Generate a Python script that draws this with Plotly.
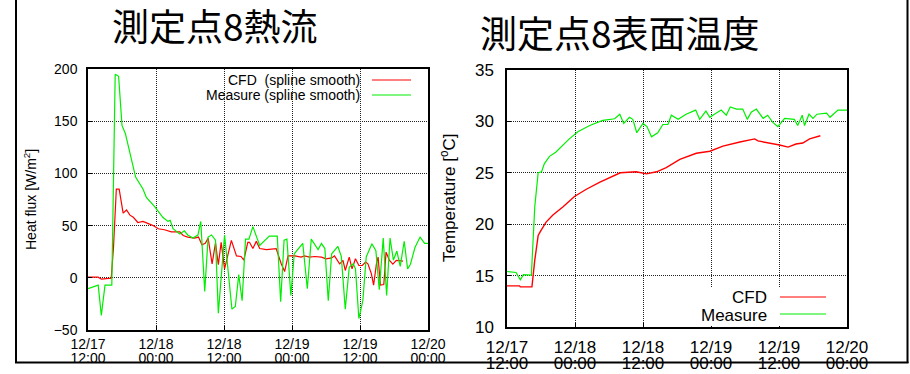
import pandas as pd
import plotly.graph_objects as go

# ---------------- data (hours since 2010-12-17 12:00) ----------------
START = pd.Timestamp("2010-12-17 12:00")

hf_cfd_h = [0, 1.8, 2.35, 4.1, 4.5, 5.0, 5.5, 6.2, 6.8, 7.4, 8.0, 8.8, 9.7, 10.6, 11.5, 12.4,
            13.5, 14.7, 16.2, 16.8, 17.6, 18.8, 19.5, 20.1, 20.7, 21.2, 21.9, 22.5, 23.0, 23.5,
            24.1, 25.3, 26.2, 27.0, 27.5, 28.2, 28.5, 29.1, 29.7, 30.3, 31.5, 33.2, 34.1, 34.7,
            35.3, 36.5, 37.6, 38.2, 39.1, 40.0, 41.2, 42.0, 43.0, 43.5, 44.4, 45.0, 45.4, 46.1,
            46.6, 47.2, 47.8, 48.4, 49.0, 49.4, 50.0, 50.4, 50.9, 51.2, 51.6, 52.2, 52.6, 53.2,
            53.8, 54.4, 55.0, 55.6]
hf_cfd_v = [0.6, 0.6, -1.3, -0.3, 29, 85, 85, 62, 65, 60, 58, 53, 54, 52, 50, 47,
            46, 44, 44, 40.5, 39, 38, 39, 31.6, 33, 38, 13.4, 33.5, 12.5, 34,
            8.6, 35.8, 21, 20.4, 17, 34, 34, 28, 35, 28, 27, 28, 13.4, 6,
            21, 21, 19.8, 21, 19.8, 20.4, 19.8, 18.2, 19, 21, 13.4, 16.6, 7, 19.8,
            8.6, 18.2, 11.8, 11.8, 15, 13.4, 4, -7, 13.4, 19.8, -7, -6.4, 24.6, 16.6,
            13, 16.6, 16.6, 16]

hf_meas_h = [0, 1.8, 2.35, 3.0, 4.2, 4.8, 5.4, 6.0, 6.6, 7.5, 8.4, 9.7, 10.3, 11.8, 13.2,
             14.1, 14.5, 15.0, 16.2, 17.0, 17.6, 18.5, 19.4, 19.9, 20.6, 21.2, 21.8, 22.5,
             23.0, 24.1, 25.4, 26.0, 26.6, 27.2, 27.8, 28.4, 29.1, 30.3, 31.5, 32.0, 33.4,
             34.0, 34.6, 35.1, 35.8, 36.4, 37.9, 38.7, 39.4, 40.6, 41.2, 41.8, 42.4, 43.0,
             44.1, 44.7, 45.4, 46.1, 46.8, 47.2, 47.8, 48.5, 49.1, 50.1, 50.8, 51.4, 52.1,
             52.7, 53.3, 53.9, 54.5, 55.1, 55.8, 56.4, 56.9, 57.7, 58.6, 59.4, 60.0]
hf_meas_v = [-10.5, -7, -36, -7, -7, 195, 193, 146, 138, 116, 96.5, 85, 77, 68, 58,
             54, 55, 47, 42, 45, 41, 38, 41, 54, -13, 39, 41, 36,
             -34, 41, -30, -27.5, 3, -22, 37, 37, 49, 31, 38, 40, 40,
             -23, 36, 37, -17, 23, 33, -10.5, 37, 27, 33, 28, -22, 23,
             30, 20.5, -30, 10, 13.4, 8.6, -39, -22, 20, 32.6, 26, -11.5, 38,
             -17, 38, 17, 25.6, 11, 35, 8.6, 13, 29, 39, 33, 33]

t_cfd_h = [0, 2.2, 2.35, 4.4, 4.9, 5.5, 5.9, 6.9, 8.1, 9.9, 11.9, 14.0, 16.4, 18.7, 20.0,
           22.8, 24.6, 26.4, 28.1, 30.5, 33.4, 35.8, 38.1, 41.1, 43.7, 44.3, 46.4, 48.1,
           49.6, 51.0, 52.2, 53.4, 55.3]
t_cfd_v = [14.0, 14.0, 13.9, 13.9, 16.5, 18.9, 19.3, 20.2, 20.9, 21.7, 22.7, 23.4, 24.1, 24.7, 25.0,
           25.1, 24.9, 25.1, 25.5, 26.3, 26.9, 27.1, 27.6, 28.0, 28.3, 28.1, 27.9, 27.7,
           27.5, 27.8, 27.9, 28.3, 28.6]

t_meas_h = [0, 1.6, 2.35, 2.9, 4.3, 4.9, 5.5, 6.1, 6.6, 7.5, 8.6, 9.9, 11.0, 12.5, 14.6,
            16.9, 19.0, 19.9, 20.6, 21.6, 22.2, 22.9, 24.0, 24.7, 25.5, 26.6, 27.5, 28.4,
            29.0, 30.2, 31.6, 33.3, 34.0, 35.1, 35.8, 36.6, 37.8, 38.7, 39.4, 40.5, 41.6,
            42.4, 43.1, 44.0, 45.2, 46.0, 46.9, 47.8, 49.0, 50.7, 51.3, 52.1, 52.5, 53.3,
            54.0, 54.7, 56.4, 57.0, 58.4, 60.0]
t_meas_v = [15.4, 15.3, 14.6, 15.1, 15.05, 21.7, 25.0, 25.1, 25.9, 26.6, 27.0, 27.7, 28.3, 29.0, 29.6,
            30.1, 30.26, 30.7, 29.8, 30.4, 30.2, 28.9, 29.8, 29.5, 28.5, 28.9, 29.7, 29.7,
            30.6, 30.2, 30.7, 31.1, 30.2, 31.0, 30.4, 30.7, 31.1, 30.6, 31.4, 31.2, 31.2,
            30.2, 30.9, 31.2, 30.3, 30.6, 29.9, 29.5, 30.3, 30.2, 29.6, 30.6, 29.6, 30.7,
            30.3, 30.7, 30.8, 30.4, 31.1, 31.1]

tick_hours = [0, 12, 24, 36, 48, 60]
hf_ticks = [-50, 0, 50, 100, 150, 200]
t_ticks = [10, 15, 20, 25, 30, 35]

left_title = "測定点8熱流"
right_title = "測定点8表面温度"
hf_ylabel = "Heat flux [W/m<sup>2</sup>]"
t_ylabel = "Temperature [<sup>o</sup>C]"
hf_legend = ["CFD  (spline smooth)", "Measure (spline smooth)"]
t_legend = ["CFD", "Measure"]


def to_time(hours):
    return START + pd.to_timedelta(hours, unit="h")


RED = "#ff0000"
GREEN = "#00ee00"
FONT = "Liberation Sans, Arial, sans-serif"
CJK = "Noto Sans CJK JP"

W, H = 910, 374


def px(x):
    return x / W


def py(y):
    return 1 - y / H


fig = go.Figure()
fig.add_trace(go.Scatter(x=to_time(hf_cfd_h), y=hf_cfd_v, mode="lines",
                         line=dict(color=RED, width=1.2), xaxis="x", yaxis="y", showlegend=False))
fig.add_trace(go.Scatter(x=to_time(hf_meas_h), y=hf_meas_v, mode="lines",
                         line=dict(color=GREEN, width=1.2), xaxis="x", yaxis="y", showlegend=False))
fig.add_trace(go.Scatter(x=to_time(t_cfd_h), y=t_cfd_v, mode="lines",
                         line=dict(color=RED, width=1.4), xaxis="x2", yaxis="y2", showlegend=False))
fig.add_trace(go.Scatter(x=to_time(t_meas_h), y=t_meas_v, mode="lines",
                         line=dict(color=GREEN, width=1.2), xaxis="x2", yaxis="y2", showlegend=False))
# helper (empty) traces carrying the second line of the date tick labels
fig.add_trace(go.Scatter(x=[], y=[], xaxis="x3", yaxis="y", showlegend=False))
fig.add_trace(go.Scatter(x=[], y=[], xaxis="x4", yaxis="y2", showlegend=False))

xr = [to_time(0), to_time(60)]
tickv = list(to_time(tick_hours))

grid = dict(showgrid=True, gridcolor="#222", gridwidth=1, griddash="1px,1px", zeroline=False,
            showline=True, linecolor="black", linewidth=1.5, mirror=True,
            ticks="inside", ticklen=4, tickcolor="black")

L_DOM = [px(88), px(428)]
R_DOM = [px(507), px(847)]

fig.update_layout(
    autosize=True,
    margin=dict(l=0, r=0, t=0, b=0, autoexpand=False),
    paper_bgcolor="white", plot_bgcolor="white",
    font=dict(family=FONT, color="black"),
    xaxis=dict(domain=L_DOM, anchor="y", type="date", range=xr, tickvals=tickv,
               tickformat="%m/%d", tickfont=dict(size=14), ticklabelstandoff=0, **grid),
    yaxis=dict(domain=[py(330), py(69)], anchor="x", range=[-50, 200], tickvals=hf_ticks,
               tickfont=dict(size=14), ticklabelstandoff=6, **grid),
    xaxis3=dict(overlaying="x", anchor="y", type="date", range=xr, tickvals=tickv,
                tickformat="%H:%M", tickfont=dict(size=14), ticklabelstandoff=18,
                showgrid=False, zeroline=False, showline=False, ticks=""),
    xaxis2=dict(domain=R_DOM, anchor="y2", type="date", range=xr, tickvals=tickv,
                tickformat="%m/%d", tickfont=dict(size=17), ticklabelstandoff=4, **grid),
    yaxis2=dict(domain=[py(327), py(70)], anchor="x2", range=[10, 35], tickvals=t_ticks,
                tickfont=dict(size=17), ticklabelstandoff=8, **grid),
    xaxis4=dict(overlaying="x2", anchor="y2", type="date", range=xr, tickvals=tickv,
                tickformat="%H:%M", tickfont=dict(size=17), ticklabelstandoff=24,
                showgrid=False, zeroline=False, showline=False, ticks=""),
)

ann = []
# titles
ann.append(dict(text=left_title, x=px(215), y=py(25), xref="paper", yref="paper",
                showarrow=False, xanchor="center", yanchor="middle",
                font=dict(family=CJK, size=37, color="black")))
ann.append(dict(text=right_title, x=px(620), y=py(32), xref="paper", yref="paper",
                showarrow=False, xanchor="center", yanchor="middle",
                font=dict(family=CJK, size=37, color="black")))
# y axis titles
ann.append(dict(text=hf_ylabel, x=px(30), y=py(200), xref="paper", yref="paper",
                showarrow=False, textangle=-90, xanchor="center", yanchor="middle",
                font=dict(size=14)))
ann.append(dict(text=t_ylabel, x=px(448), y=py(198), xref="paper", yref="paper",
                showarrow=False, textangle=-90, xanchor="center", yanchor="middle",
                font=dict(size=17)))
# legends (gnuplot style: text right-aligned, sample line on the right)
for txt, yy in zip(hf_legend, [80, 95]):
    ann.append(dict(text=txt, x=px(362), y=py(yy), xref="paper", yref="paper",
                    showarrow=False, xanchor="right", yanchor="middle", font=dict(size=14)))
for txt, yy in zip(t_legend, [297, 315]):
    ann.append(dict(text=txt, x=px(769), y=py(yy), xref="paper", yref="paper",
                    showarrow=False, xanchor="right", yanchor="middle", font=dict(size=17)))

shapes = []
# white legend box on the right chart
shapes.append(dict(type="rect", xref="paper", yref="paper", x0=px(698), x1=px(846),
                   y0=py(326), y1=py(288), fillcolor="white", line=dict(width=0), layer="above"))
for col, yy in zip([RED, GREEN], [80, 95]):
    shapes.append(dict(type="line", xref="paper", yref="paper", x0=px(372), x1=px(411),
                       y0=py(yy), y1=py(yy), line=dict(color=col, width=1.2)))
for col, yy in zip([RED, GREEN], [297, 314]):
    shapes.append(dict(type="line", xref="paper", yref="paper", x0=px(780), x1=px(826),
                       y0=py(yy), y1=py(yy), line=dict(color=col, width=1.2)))
# outer slide frame
shapes.append(dict(type="line", xref="paper", yref="paper", x0=px(16), x1=px(16),
                   y0=py(363), y1=1.0, line=dict(color="black", width=2)))
shapes.append(dict(type="line", xref="paper", yref="paper", x0=px(907.5), x1=px(907.5),
                   y0=py(363), y1=1.0, line=dict(color="black", width=2)))
shapes.append(dict(type="line", xref="paper", yref="paper", x0=px(15), x1=px(908.5),
                   y0=py(362.5), y1=py(362.5), line=dict(color="black", width=2)))

fig.update_layout(annotations=ann, shapes=shapes)
# the page's default body margin would otherwise make it overflow the 910x374 window,
# so the plot div is pinned to the page's top-left corner at exactly 910x374
fig.write_html(
    "out.html",
    default_width="910px; position:absolute; left:0; top:0",
    default_height="374px",
    config={"displayModeBar": False},
)
